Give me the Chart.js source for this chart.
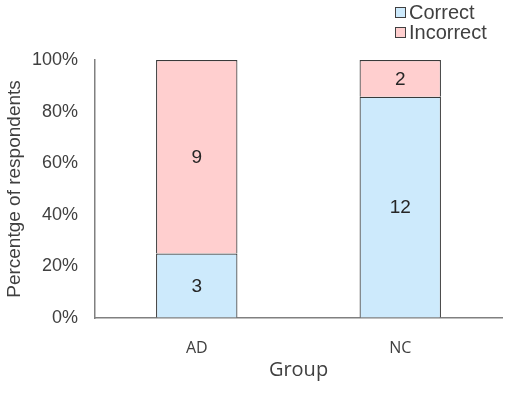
<!DOCTYPE html>
<html>
<head>
<meta charset="utf-8">
<script src="https://cdn.jsdelivr.net/npm/chart.js@4"></script>
<style>
  html, body { margin: 0; padding: 0; background: #fff; }
  #wrap { width: 510px; height: 394px; }
</style>
</head>
<body>
<div id="wrap"><canvas id="groupChart" width="510" height="394"></canvas></div>
<script>
const groups = ["AD", "NC"];
const correctCounts = [3, 12];
const incorrectCounts = [9, 2];
const yTicks = [0, 20, 40, 60, 80, 100];

const totals = groups.map((g, i) => correctCounts[i] + incorrectCounts[i]);
const toPct = (arr) => arr.map((v, i) => v / totals[i] * 100);

const textColor = "#404040";
const fontFamily = "'Liberation Sans', Arial, sans-serif";
const catFont = "'Open Sans', sans-serif";

// count labels in the middle of each segment
const countLabels = {
  id: "countLabels",
  afterDatasetsDraw(chart) {
    const ctx = chart.ctx;
    ctx.save();
    ctx.font = "19px " + fontFamily;
    ctx.fillStyle = "#262626";
    ctx.textAlign = "center";
    ctx.textBaseline = "middle";
    chart.data.datasets.forEach((ds, i) => {
      chart.getDatasetMeta(i).data.forEach((bar, j) => {
        const c = bar.getCenterPoint();
        ctx.fillText(String(ds.counts[j]), c.x, c.y + 1);
      });
    });
    ctx.restore();
  }
};

// small stacked legend in the top right corner
const cornerLegend = {
  id: "cornerLegend",
  afterDraw(chart) {
    const ctx = chart.ctx;
    ctx.save();
    ctx.font = "20px " + fontFamily;
    ctx.textBaseline = "middle";
    chart.data.datasets.forEach((ds, i) => {
      const y = 12 + i * 20;
      ctx.fillStyle = ds.backgroundColor;
      ctx.fillRect(395.5, y - 4.5, 10, 10);
      ctx.strokeStyle = "#404040";
      ctx.lineWidth = 1;
      ctx.strokeRect(395.5, y - 4.5, 10, 10);
      ctx.fillStyle = textColor;
      ctx.fillText(ds.label, 409, y + 1);
    });
    ctx.restore();
  }
};

const ctx = document.getElementById("groupChart").getContext("2d");
new Chart(ctx, {
  type: "bar",
  data: {
    labels: groups,
    datasets: [{
      label: "Correct",
      data: toPct(correctCounts),
      counts: correctCounts,
      backgroundColor: "#cdeafc",
      borderColor: "#3a3a3a",
      borderWidth: 1.2
    }, {
      label: "Incorrect",
      data: toPct(incorrectCounts),
      counts: incorrectCounts,
      backgroundColor: "#ffcfcf",
      borderColor: "#3a3a3a",
      borderWidth: 1.2
    }]
  },
  options: {
    responsive: false,
    animation: false,
    layout: { padding: { top: 60, right: 8, left: 0, bottom: 0 } },
    datasets: { bar: { barPercentage: 0.4, categoryPercentage: 1 } },
    plugins: {
      legend: { display: false },
      tooltip: { enabled: false }
    },
    scales: {
      x: {
        stacked: true,
        grid: { color: "transparent", drawTicks: false },
        border: { display: true, color: "#808080", width: 1.5 },
        ticks: { color: textColor, font: { family: catFont, size: 16 }, padding: 21 },
        title: { display: true, text: "Group", color: textColor, font: { family: catFont, size: 20 }, padding: { top: 4, bottom: 12 } },
        afterFit(scale) { scale.height = 76; }
      },
      y: {
        stacked: true,
        min: 0,
        max: 100,
        afterBuildTicks(scale) { scale.ticks = yTicks.map(v => ({ value: v })); },
        grid: { color: "transparent", drawTicks: false },
        border: { display: true, color: "#808080", width: 1.5 },
        ticks: {
          color: textColor,
          font: { family: fontFamily, size: 18 },
          padding: 17,
          callback: (v) => v + "%"
        },
        title: { display: true, text: "Percentge of respondents", color: textColor, font: { family: fontFamily, size: 19 }, padding: { top: 3, bottom: 4 } },
        afterFit(scale) { scale.width = 95; }
      }
    }
  },
  plugins: [countLabels, cornerLegend]
});
</script>
</body>
</html>
